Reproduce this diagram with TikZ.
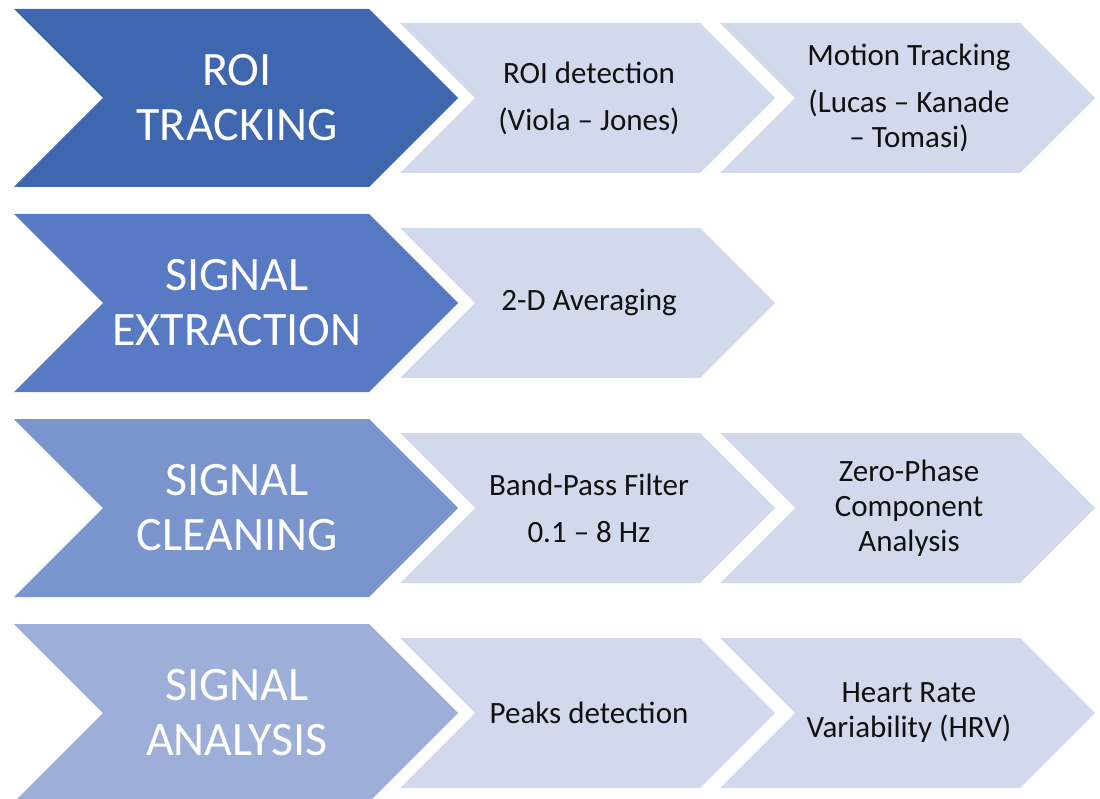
\documentclass[tikz,border=0pt]{standalone}
\usepackage{fontspec}
\setmainfont{Carlito}
\definecolor{stageA}{HTML}{3E67B0}
\definecolor{stageB}{HTML}{5879C3}
\definecolor{stageC}{HTML}{7A94CE}
\definecolor{stageD}{HTML}{9DAED8}
\definecolor{stepfill}{HTML}{D3D9EC}
\definecolor{steptext}{HTML}{111111}
% chevron: left x, centre y, length to tip, half height
\newcommand\chevshape[5]{%
  \fill[#5] (#1,#2-#4) -- (#1+#3-#4,#2-#4) -- (#1+#3,#2) -- (#1+#3-#4,#2+#4)
    -- (#1,#2+#4) -- (#1+#4,#2) -- cycle;}
\tikzset{
  stagetext/.style={text=white, align=center, font=\fontsize{48}{55}\selectfont, inner sep=0pt},
  steptxt/.style={text=steptext, align=center, font=\fontsize{31}{35}\selectfont, inner sep=0pt},
}
\begin{document}
\begin{tikzpicture}[x=1pt,y=-1pt]
\useasboundingbox (0,0) rectangle (1100,799);
\fill[white] (0,0) rectangle (1100,799);
% stage chevrons
\chevshape{14}{98}{444}{89}{stageA}
\chevshape{14}{303}{444}{89}{stageB}
\chevshape{14}{508}{444}{89}{stageC}
\chevshape{14}{713}{444}{89}{stageD}
% step chevrons
\chevshape{400}{98}{375}{75}{stepfill}
\chevshape{720}{98}{375}{75}{stepfill}
\chevshape{400}{303}{375}{75}{stepfill}
\chevshape{400}{508}{375}{75}{stepfill}
\chevshape{720}{508}{375}{75}{stepfill}
\chevshape{400}{713}{375}{75}{stepfill}
\chevshape{720}{713}{375}{75}{stepfill}
% stage labels
\node[stagetext] (roi) at (237,98) {ROI\\TRACKING};
\node[stagetext] (ext) at (237,303) {SIGNAL\\EXTRACTION};
\node[stagetext] (cln) at (237,508) {SIGNAL\\CLEANING};
\node[stagetext] (ana) at (237,713) {SIGNAL\\ANALYSIS};
% step labels
\node[steptxt] (vj) at (589,98) {ROI detection\\[12pt](Viola – Jones)};
\node[steptxt] (lkt) at (909,98) {Motion Tracking\\[12pt](Lucas – Kanade\\– Tomasi)};
\node[steptxt] (avg) at (589,303) {2-D Averaging};
\node[steptxt] (bpf) at (589,508) {Band-Pass Filter\\[12pt]0.1 – 8 Hz};
\node[steptxt] (zpc) at (909,508) {Zero-Phase\\Component\\Analysis};
\node[steptxt] (pk) at (589,713) {Peaks detection};
\node[steptxt] (hrv) at (909,713) {Heart Rate\\Variability (HRV)};
\end{tikzpicture}
\end{document}
